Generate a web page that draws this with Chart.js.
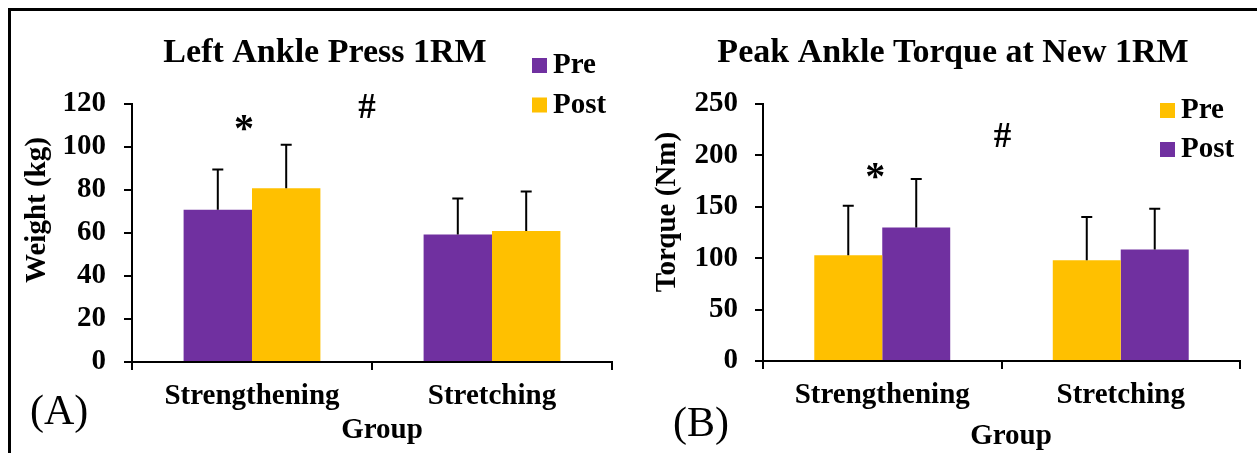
<!DOCTYPE html>
<html lang="en">
<head>
<meta charset="UTF-8">
<title>Ankle Press 1RM and Peak Ankle Torque</title>
<script src="https://cdn.jsdelivr.net/npm/chart.js"></script>
<style>
  html, body { margin: 0; padding: 0; background: #fff; overflow: hidden; }
  body { width: 1257px; height: 453px; position: relative; }
  #frame { position: absolute; left: 8px; top: 8px; width: 1300px; height: 500px;
           border: 3px solid #000; box-sizing: border-box; }
  canvas { position: absolute; top: 0; }
  #chartA { left: 0; }
  #chartB { left: 630px; }
</style>
</head>
<body>
<div id="frame"></div>
<canvas id="chartA" width="630" height="453"></canvas>
<canvas id="chartB" width="627" height="453"></canvas>
<script>
const groups = ['Strengthening', 'Stretching'];

// (A) Left ankle press 1RM (kg), mean and SD
const pressPre     = [70.8, 59.3];
const pressPreSD   = [18.7, 16.7];
const pressPost    = [80.8, 60.9];
const pressPostSD  = [20.3, 18.4];
const pressTicks   = [0, 20, 40, 60, 80, 100, 120];

// (B) Peak ankle torque at new 1RM (Nm), mean and SD
const torquePre    = [102.9, 98.1];
const torquePreSD  = [48.1, 41.9];
const torquePost   = [129.9, 108.5];
const torquePostSD = [47.1, 39.6];
const torqueTicks  = [0, 50, 100, 150, 200, 250];

const PURPLE = '#7030A0';
const ORANGE = '#FFC000';
const SERIF  = '"Liberation Serif", "Times New Roman", serif';

// upper SD whiskers on top of each bar
const errorBars = {
  id: 'errorBars',
  afterDatasetsDraw(chart) {
    const { ctx, scales: { y } } = chart;
    ctx.save();
    ctx.strokeStyle = '#000';
    ctx.lineWidth = 2;
    chart.data.datasets.forEach((ds, i) => {
      chart.getDatasetMeta(i).data.forEach((bar, j) => {
        const top = y.getPixelForValue(ds.data[j] + ds.sd[j]);
        ctx.beginPath();
        ctx.moveTo(bar.x, bar.y);
        ctx.lineTo(bar.x, top);
        ctx.moveTo(bar.x - 5.5, top);
        ctx.lineTo(bar.x + 5.5, top);
        ctx.stroke();
      });
    });
    ctx.restore();
  }
};

// titles, axis titles, panel letter, legend and significance marks
const notes = {
  id: 'notes',
  afterDraw(chart, args, o) {
    const { ctx, scales: { x, y } } = chart;
    ctx.save();
    ctx.fillStyle = '#000';
    ctx.textBaseline = 'alphabetic';

    ctx.font = `bold 34px ${SERIF}`;
    ctx.textAlign = 'center';
    ctx.fillText(o.title, o.titleX, 62);

    ctx.font = `bold 29px ${SERIF}`;
    ctx.fillText(o.xTitle, o.xTitleX, o.xTitleY);

    ctx.save();
    ctx.translate(o.yTitleX, o.yTitleY);
    ctx.rotate(-Math.PI / 2);
    ctx.fillText(o.yTitle, 0, 0);
    ctx.restore();

    ctx.font = `42px ${SERIF}`;
    ctx.textAlign = 'left';
    ctx.fillText(o.panel, o.panelX, o.panelY);

    // legend
    ctx.font = `bold 29px ${SERIF}`;
    chart.data.datasets.forEach((ds, i) => {
      const base = o.legendY[i];
      ctx.fillStyle = ds.backgroundColor;
      ctx.fillRect(o.legendX, base - 15, 15, 15);
      ctx.fillStyle = '#000';
      ctx.fillText(ds.label, o.legendX + 21, base);
    });

    // * and #
    ctx.textAlign = 'center';
    o.marks.forEach(m => {
      ctx.font = `bold ${m.size}px ${SERIF}`;
      const px = m.between ? (x.getPixelForValue(0) + x.getPixelForValue(1)) / 2
                           : x.getPixelForValue(m.cat);
      ctx.fillText(m.text, px + m.dx, y.getPixelForValue(m.at));
    });
    ctx.restore();
  }
};

function buildChart(id, cfg) {
  new Chart(document.getElementById(id), {
    type: 'bar',
    data: {
      labels: groups,
      datasets: cfg.series.map(s => ({
        label: s.label,
        data: s.data,
        sd: s.sd,
        backgroundColor: s.color,
        borderWidth: 0,
        categoryPercentage: 0.57,
        barPercentage: 1.0
      }))
    },
    options: {
      responsive: false,
      animation: false,
      devicePixelRatio: 1,
      layout: { padding: { left: 0, right: cfg.padRight, top: 104, bottom: cfg.padBottom } },
      plugins: {
        legend: { display: false },
        tooltip: { enabled: false },
        title: { display: false },
        notes: cfg.notes
      },
      scales: {
        x: {
          afterFit: s => { s.height = 50; },
          border: { color: '#000', width: 2 },
          grid: { drawOnChartArea: false, color: '#000', lineWidth: 2, tickLength: 8, offset: true },
          ticks: { color: '#000', padding: 9, font: { family: SERIF, size: 29, weight: 'bold' } }
        },
        y: {
          min: cfg.ticks[0],
          max: cfg.ticks[cfg.ticks.length - 1],
          afterBuildTicks: s => { s.ticks = cfg.ticks.map(v => ({ value: v })); },
          afterFit: s => { s.width = cfg.yWidth; },
          border: { color: '#000', width: 2 },
          grid: { drawOnChartArea: false, color: '#000', lineWidth: 2, tickLength: 8 },
          ticks: { color: '#000', padding: cfg.yPad, font: { family: SERIF, size: 29, weight: 'bold' } }
        }
      }
    },
    plugins: [errorBars, notes]
  });
}

buildChart('chartA', {
  ticks: pressTicks,
  yWidth: 132, yPad: 18, padRight: 18, padBottom: 41,
  series: [
    { label: 'Pre',  data: pressPre,  sd: pressPreSD,  color: PURPLE },
    { label: 'Post', data: pressPost, sd: pressPostSD, color: ORANGE }
  ],
  notes: {
    title: 'Left Ankle Press 1RM', titleX: 325,
    xTitle: 'Group', xTitleX: 382, xTitleY: 438,
    yTitle: 'Weight (kg)', yTitleX: 45, yTitleY: 210,
    panel: '(A)', panelX: 30, panelY: 424,
    legendX: 532, legendY: [73, 112.5],
    marks: [
      { text: '*', size: 40, cat: 0, dx: -8, at: 102.8 },
      { text: '#', size: 35, between: true, dx: -5, at: 113.7 }
    ]
  }
});

buildChart('chartB', {
  ticks: torqueTicks,
  yWidth: 133, yPad: 17, padRight: 17, padBottom: 42,
  series: [
    { label: 'Pre',  data: torquePre,  sd: torquePreSD,  color: ORANGE },
    { label: 'Post', data: torquePost, sd: torquePostSD, color: PURPLE }
  ],
  notes: {
    title: 'Peak Ankle Torque at New 1RM', titleX: 323,
    xTitle: 'Group', xTitleX: 381, xTitleY: 444,
    yTitle: 'Torque (Nm)', yTitleX: 45, yTitleY: 212,
    panel: '(B)', panelX: 43, panelY: 436,
    legendX: 530, legendY: [118, 157],
    marks: [
      { text: '*', size: 40, cat: 0, dx: -7, at: 167.5 },
      { text: '#', size: 35, between: true, dx: 1, at: 208.5 }
    ]
  }
});
</script>
</body>
</html>
